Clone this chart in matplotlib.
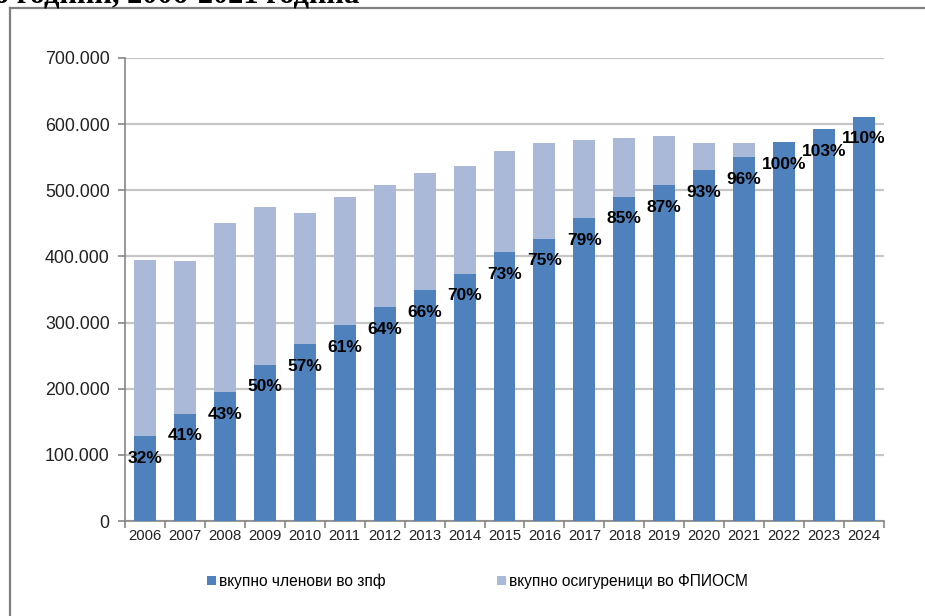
import matplotlib
matplotlib.use("Agg")
import matplotlib.pyplot as plt
from matplotlib.lines import Line2D
from matplotlib.ticker import FuncFormatter
import numpy as np

years = [str(y) for y in range(2006, 2025)]
members = [128000, 162000, 194500, 236000, 267000, 296000, 323500, 349000, 374000,
           406000, 427000, 457500, 490000, 507500, 530000, 550000, 572500, 592500, 611000]
insured = [395000, 393000, 451000, 475000, 466000, 490000, 508000, 526000, 537000,
           559500, 571000, 575500, 578500, 582000, 572000, 572000, 573500, 575000, 555000]
pct_labels = ["32%", "41%", "43%", "50%", "57%", "61%", "64%", "66%", "70%", "73%",
              "75%", "79%", "85%", "87%", "93%", "96%", "100%", "103%", "110%"]
series_names = ["вкупно членови во зпф", "вкупно осигуреници во ФПИОСМ"]
title_text = "о години, 2006-2021 година"

plt.rcParams['font.family'] = ['Liberation Sans', 'DejaVu Sans']

W, H = 925, 616
fig = plt.figure(figsize=(W / 100, H / 100), dpi=100)
ax = fig.add_axes([125 / W, 1 - 521 / H, (884 - 125) / W, (521 - 58) / H])

x = np.arange(len(years))
dark = "#4f81bd"
light = "#aab9d7"
ax.bar(x, insured, width=0.55, color=light, zorder=2, label=series_names[1])
ax.bar(x, members, width=0.55, color=dark, zorder=3, label=series_names[0])

for xi, m, lab in zip(x, members, pct_labels):
    ax.annotate(lab, (xi, m), xytext=(0, -22), textcoords="offset pixels",
                ha="center", va="center", fontsize=12.5, fontweight="bold",
                color="black", zorder=5)

ax.set_xlim(-0.5, len(years) - 0.5)
ax.set_ylim(0, 700000)
ax.set_yticks(np.arange(0, 700001, 100000))
ax.yaxis.set_major_formatter(FuncFormatter(lambda v, p: f"{int(v):,}".replace(",", ".")))
ax.set_xticks(x)
ax.set_xticklabels(years)
ax.set_xticks(np.arange(-0.5, len(years), 1), minor=True)
ax.tick_params(axis="x", which="major", length=0, labelsize=10.7, pad=6, labelcolor="#222222")
ax.tick_params(axis="x", which="minor", length=5, color="#868686", width=1.2, direction="out")
ax.tick_params(axis="y", length=5, color="#868686", width=1.2, labelsize=12.8, pad=6,
               labelcolor="#222222")

ax.grid(axis="y", color="#c6c6c6", linewidth=1.6, zorder=0)
ax.set_axisbelow(True)
for s in ["top", "right"]:
    ax.spines[s].set_visible(False)
for s in ["left", "bottom"]:
    ax.spines[s].set_color("#868686")
    ax.spines[s].set_linewidth(1.2)

handles, labels = ax.get_legend_handles_labels()
fig.legend(handles[::-1], labels[::-1], loc="center left", bbox_to_anchor=(193 / W, 1 - 581 / H),
           ncol=2, frameon=False, fontsize=11.2, handlelength=0.55, handleheight=0.55,
           handletextpad=0.2, columnspacing=7.2)

# outer frame and clipped heading
fig.add_artist(Line2D([10 / W, 1], [1 - 8 / H, 1 - 8 / H], color="#7f7f7f", linewidth=1.6))
fig.add_artist(Line2D([10 / W, 10 / W], [0, 1 - 8 / H], color="#7f7f7f", linewidth=1.6))
fig.text(-6 / W, 1 - 3 / H, title_text, fontfamily="Liberation Serif", fontweight="bold",
         fontsize=22, va="baseline", ha="left")

fig.savefig("out.png", dpi=100)
